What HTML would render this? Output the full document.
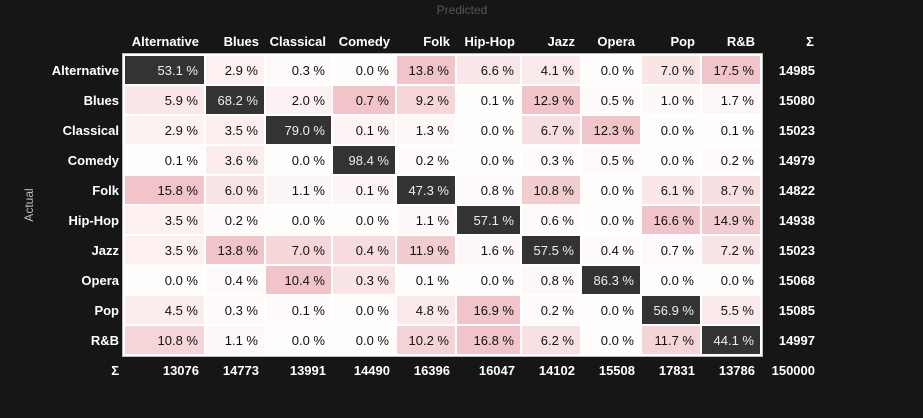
<!DOCTYPE html>
<html><head><meta charset="utf-8"><style>
body{margin:0;background:#161616;width:923px;height:413px;overflow:hidden;font-family:"Liberation Sans",sans-serif}
</style></head><body>
<svg id="c" width="923" height="413"></svg>
<script>
const genres=["Alternative","Blues","Classical","Comedy","Folk","Hip-Hop","Jazz","Opera","Pop","R&B"];
const m0=[53.1,2.9,0.3,0.0,13.8,6.6,4.1,0.0,7.0,17.5];
const m1=[5.9,68.2,2.0,0.7,9.2,0.1,12.9,0.5,1.0,1.7];
const m2=[2.9,3.5,79.0,0.1,1.3,0.0,6.7,12.3,0.0,0.1];
const m3=[0.1,3.6,0.0,98.4,0.2,0.0,0.3,0.5,0.0,0.2];
const m4=[15.8,6.0,1.1,0.1,47.3,0.8,10.8,0.0,6.1,8.7];
const m5=[3.5,0.2,0.0,0.0,1.1,57.1,0.6,0.0,16.6,14.9];
const m6=[3.5,13.8,7.0,0.4,11.9,1.6,57.5,0.4,0.7,7.2];
const m7=[0.0,0.4,10.4,0.3,0.1,0.0,0.8,86.3,0.0,0.0];
const m8=[4.5,0.3,0.1,0.0,4.8,16.9,0.2,0.0,56.9,5.5];
const m9=[10.8,1.1,0.0,0.0,10.2,16.8,6.2,0.0,11.7,44.1];
const rowSums=[14985,15080,15023,14979,14822,14938,15023,15068,15085,14997];
const colSums=[13076,14773,13991,14490,16396,16047,14102,15508,17831,13786];
const total=150000;
const M=[m0,m1,m2,m3,m4,m5,m6,m7,m8,m9];
const xs=[124,205,265,332,396,456,521,581,641,701,761];
const gridTop=55,rh=30;
const svg=document.getElementById('c');
const NS="http://www.w3.org/2000/svg";
function el(t,a,txt){const e=document.createElementNS(NS,t);for(const k in a)e.setAttribute(k,a[k]);if(txt!==undefined)e.textContent=txt;svg.appendChild(e);return e;}
let t=el('text',{x:462,y:14,fill:'#555','font-size':12,'text-anchor':'middle'},'Predicted');


t=el('text',{x:33,y:205,fill:'#bbb','font-size':12,'text-anchor':'middle',transform:'rotate(-90 33 205)'},'Actual');


el('rect',{x:122.5,y:53.5,width:640,height:303,fill:'#fff',stroke:'#bbb'});
const colMax=genres.map((g,j)=>Math.max(...M.map((r,i)=>i===j?0:r[j]),0.01));
for(let i=0;i<10;i++){
 const y=gridTop+i*rh;
 t=el('text',{x:119,y:y+20,fill:'#fff','font-size':13,'font-weight':'bold','text-anchor':'end'},genres[i]);
 
 
 for(let j=0;j<10;j++){
  const v=M[i][j];let fill,tc='#111';
  if(i===j){fill='#333';tc='#eee';}
  else{const k=Math.min(v/colMax[j],1);const r=255-Math.round(15*k),g=252-Math.round(56*k),b=252-Math.round(52*k);fill=`rgb(${r},${g},${b})`;}
  const r=el('rect',{x:xs[j]+1,y:y+1,width:xs[j+1]-xs[j]-2,height:rh-2,fill});
  
  
  el('text',{x:xs[j+1]-7,y:y+20,fill:tc,'font-size':13,'text-anchor':'end'},v.toFixed(1)+' %');
 }
 t=el('text',{x:815,y:y+20,fill:'#fff','font-size':13,'font-weight':'bold','text-anchor':'end'},rowSums[i]);
 
 
}
for(let j=0;j<10;j++){
 t=el('text',{x:xs[j+1]-6,y:46,fill:'#fff','font-size':13,'font-weight':'bold','text-anchor':'end'},genres[j]);
 
 
 t=el('text',{x:xs[j+1]-6,y:375,fill:'#fff','font-size':13,'font-weight':'bold','text-anchor':'end'},colSums[j]);
 
 
}
el('text',{x:810,y:46,fill:'#fff','font-size':13,'font-weight':'bold','text-anchor':'middle'},'Σ');
el('text',{x:119,y:375,fill:'#fff','font-size':13,'font-weight':'bold','text-anchor':'end'},'Σ');
t=el('text',{x:815,y:375,fill:'#fff','font-size':13,'font-weight':'bold','text-anchor':'end'},total);


</script>
</body></html>
